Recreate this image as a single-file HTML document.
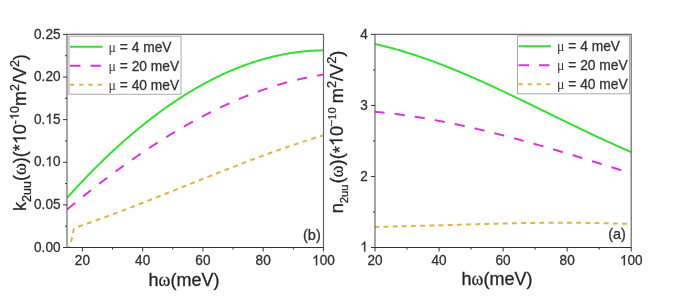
<!DOCTYPE html>
<html><head><meta charset="utf-8"><title>chart</title>
<style>html,body{margin:0;padding:0;background:#fff;width:685px;height:297px;overflow:hidden}svg{display:block;filter:blur(0.35px)}text{stroke:#333;stroke-width:0.3px;stroke-linejoin:round}tspan.one{stroke:none}path.o1{stroke:#333;stroke-width:0.3px;vector-effect:non-scaling-stroke}</style>
</head><body>
<svg width='685' height='297' viewBox='0 0 685 297' font-family="Liberation Sans, sans-serif">
<defs><clipPath id='cl'><rect x='67' y='34.3' width='256.4' height='212.7'/></clipPath><clipPath id='cr'><rect x='374.9' y='34.3' width='256.4' height='212.9'/></clipPath></defs>
<rect width='685' height='297' fill='#fff'/>
<g clip-path='url(#cl)' fill='none' stroke-width='2'>
<path d='M69.00 250.00 L69.08 249.56 L69.20 248.94 L69.34 248.21 L69.49 247.44 L69.65 246.68 L69.80 246.00 L69.96 245.41 L70.12 244.84 L70.29 244.30 L70.46 243.76 L70.63 243.19 L70.80 242.60 L70.97 241.97 L71.14 241.31 L71.31 240.64 L71.47 239.96 L71.64 239.27 L71.80 238.60 L71.96 237.92 L72.12 237.24 L72.28 236.55 L72.43 235.87 L72.57 235.22 L72.70 234.60 L72.82 234.01 L72.93 233.43 L73.03 232.88 L73.13 232.36 L73.22 231.86 L73.30 231.40 L73.37 230.97 L73.42 230.58 L73.47 230.22 L73.52 229.89 L73.60 229.58 L73.70 229.30 L73.84 229.05 L74.00 228.84 L74.19 228.66 L74.39 228.49 L74.59 228.34 L74.80 228.20 L75.01 228.07 L75.22 227.97 L75.44 227.89 L75.68 227.80 L75.93 227.71 L76.20 227.60 L76.52 227.46 L76.89 227.29 L77.28 227.11 L77.65 226.94 L77.96 226.79 L78.18 226.69 L78.94 226.43 L79.69 226.18 L80.44 225.92 L81.20 225.66 L81.95 225.40 L82.70 225.14 L83.45 224.88 L84.21 224.61 L84.96 224.35 L85.71 224.09 L86.47 223.83 L87.22 223.56 L87.97 223.30 L88.73 223.03 L89.48 222.77 L90.23 222.50 L90.99 222.23 L91.74 221.96 L92.49 221.70 L93.25 221.43 L94.00 221.16 L94.75 220.89 L95.50 220.62 L96.26 220.35 L97.01 220.08 L97.76 219.80 L98.52 219.53 L99.27 219.26 L100.02 218.99 L100.78 218.71 L101.53 218.44 L102.28 218.16 L103.04 217.89 L103.79 217.61 L104.54 217.34 L105.30 217.06 L106.05 216.78 L106.80 216.51 L107.55 216.23 L108.31 215.95 L109.06 215.67 L109.81 215.39 L110.57 215.11 L111.32 214.83 L112.07 214.55 L112.83 214.27 L113.58 213.99 L114.33 213.70 L115.09 213.42 L115.84 213.14 L116.59 212.86 L117.35 212.57 L118.10 212.29 L118.85 212.00 L119.60 211.72 L120.36 211.43 L121.11 211.15 L121.86 210.86 L122.62 210.58 L123.37 210.29 L124.12 210.00 L124.88 209.72 L125.63 209.43 L126.38 209.14 L127.14 208.85 L127.89 208.56 L128.64 208.27 L129.40 207.99 L130.15 207.70 L130.90 207.41 L131.65 207.12 L132.41 206.82 L133.16 206.53 L133.91 206.24 L134.67 205.95 L135.42 205.66 L136.17 205.37 L136.93 205.07 L137.68 204.78 L138.43 204.49 L139.19 204.20 L139.94 203.90 L140.69 203.61 L141.45 203.31 L142.20 203.02 L142.95 202.73 L143.70 202.43 L144.46 202.14 L145.21 201.84 L145.96 201.55 L146.72 201.25 L147.47 200.95 L148.22 200.66 L148.98 200.36 L149.73 200.07 L150.48 199.77 L151.24 199.47 L151.99 199.17 L152.74 198.88 L153.50 198.58 L154.25 198.28 L155.00 197.98 L155.75 197.69 L156.51 197.39 L157.26 197.09 L158.01 196.79 L158.77 196.49 L159.52 196.19 L160.27 195.89 L161.03 195.60 L161.78 195.30 L162.53 195.00 L163.29 194.70 L164.04 194.40 L164.79 194.10 L165.55 193.80 L166.30 193.50 L167.05 193.20 L167.80 192.90 L168.56 192.60 L169.31 192.30 L170.06 192.00 L170.82 191.70 L171.57 191.40 L172.32 191.10 L173.08 190.79 L173.83 190.49 L174.58 190.19 L175.34 189.89 L176.09 189.59 L176.84 189.29 L177.60 188.99 L178.35 188.69 L179.10 188.39 L179.85 188.09 L180.61 187.78 L181.36 187.48 L182.11 187.18 L182.87 186.88 L183.62 186.58 L184.37 186.28 L185.13 185.98 L185.88 185.68 L186.63 185.37 L187.39 185.07 L188.14 184.77 L188.89 184.47 L189.65 184.17 L190.40 183.87 L191.15 183.57 L191.90 183.27 L192.66 182.96 L193.41 182.66 L194.16 182.36 L194.92 182.06 L195.67 181.76 L196.42 181.46 L197.18 181.16 L197.93 180.86 L198.68 180.56 L199.44 180.26 L200.19 179.96 L200.94 179.66 L201.70 179.36 L202.45 179.06 L203.20 178.76 L203.95 178.46 L204.71 178.16 L205.46 177.86 L206.21 177.56 L206.97 177.26 L207.72 176.96 L208.47 176.66 L209.23 176.36 L209.98 176.06 L210.73 175.77 L211.49 175.47 L212.24 175.17 L212.99 174.87 L213.75 174.57 L214.50 174.28 L215.25 173.98 L216.00 173.68 L216.76 173.38 L217.51 173.09 L218.26 172.79 L219.02 172.49 L219.77 172.20 L220.52 171.90 L221.28 171.60 L222.03 171.31 L222.78 171.01 L223.54 170.72 L224.29 170.42 L225.04 170.13 L225.79 169.83 L226.55 169.54 L227.30 169.24 L228.05 168.95 L228.81 168.66 L229.56 168.36 L230.31 168.07 L231.07 167.78 L231.82 167.49 L232.57 167.19 L233.33 166.90 L234.08 166.61 L234.83 166.32 L235.59 166.03 L236.34 165.74 L237.09 165.45 L237.84 165.16 L238.60 164.87 L239.35 164.58 L240.10 164.29 L240.86 164.00 L241.61 163.71 L242.36 163.42 L243.12 163.13 L243.87 162.85 L244.62 162.56 L245.38 162.27 L246.13 161.99 L246.88 161.70 L247.64 161.41 L248.39 161.13 L249.14 160.84 L249.90 160.56 L250.65 160.28 L251.40 159.99 L252.15 159.71 L252.91 159.42 L253.66 159.14 L254.41 158.86 L255.17 158.58 L255.92 158.30 L256.67 158.02 L257.43 157.74 L258.18 157.46 L258.93 157.18 L259.69 156.90 L260.44 156.62 L261.19 156.34 L261.94 156.06 L262.70 155.78 L263.45 155.51 L264.20 155.23 L264.96 154.96 L265.71 154.68 L266.46 154.40 L267.22 154.13 L267.97 153.86 L268.72 153.58 L269.48 153.31 L270.23 153.04 L270.98 152.77 L271.74 152.49 L272.49 152.22 L273.24 151.95 L274.00 151.68 L274.75 151.41 L275.50 151.14 L276.25 150.88 L277.01 150.61 L277.76 150.34 L278.51 150.07 L279.27 149.81 L280.02 149.54 L280.77 149.28 L281.53 149.01 L282.28 148.75 L283.03 148.49 L283.79 148.22 L284.54 147.96 L285.29 147.70 L286.04 147.44 L286.80 147.18 L287.55 146.92 L288.30 146.66 L289.06 146.40 L289.81 146.14 L290.56 145.89 L291.32 145.63 L292.07 145.37 L292.82 145.12 L293.58 144.86 L294.33 144.61 L295.08 144.36 L295.84 144.10 L296.59 143.85 L297.34 143.60 L298.10 143.35 L298.85 143.10 L299.60 142.85 L300.35 142.60 L301.11 142.35 L301.86 142.10 L302.61 141.86 L303.37 141.61 L304.12 141.37 L304.87 141.12 L305.63 140.88 L306.38 140.63 L307.13 140.39 L307.89 140.15 L308.64 139.91 L309.39 139.67 L310.14 139.43 L310.90 139.19 L311.65 138.95 L312.40 138.72 L313.16 138.48 L313.91 138.24 L314.66 138.01 L315.42 137.77 L316.17 137.54 L316.92 137.31 L317.68 137.08 L318.43 136.85 L319.18 136.62 L319.94 136.39 L320.69 136.16 L321.44 135.93 L322.19 135.70 L322.95 135.48 L323.40 135.34' stroke='#e2b24a' stroke-dasharray='4.9 4.322' stroke-dashoffset='1.06'/>
<path d='M67.04 209.56 L67.79 208.93 L68.54 208.31 L69.30 207.69 L70.05 207.06 L70.80 206.44 L71.56 205.82 L72.31 205.21 L73.06 204.59 L73.81 203.97 L74.57 203.36 L75.32 202.74 L76.07 202.13 L76.83 201.52 L77.58 200.91 L78.33 200.30 L79.09 199.69 L79.84 199.08 L80.59 198.47 L81.35 197.87 L82.10 197.26 L82.85 196.66 L83.61 196.06 L84.36 195.45 L85.11 194.85 L85.86 194.25 L86.62 193.66 L87.37 193.06 L88.12 192.46 L88.88 191.87 L89.63 191.27 L90.38 190.68 L91.14 190.09 L91.89 189.50 L92.64 188.91 L93.40 188.32 L94.15 187.73 L94.90 187.15 L95.66 186.56 L96.41 185.98 L97.16 185.40 L97.91 184.82 L98.67 184.24 L99.42 183.66 L100.17 183.08 L100.93 182.50 L101.68 181.93 L102.43 181.35 L103.19 180.78 L103.94 180.21 L104.69 179.63 L105.45 179.06 L106.20 178.50 L106.95 177.93 L107.70 177.36 L108.46 176.80 L109.21 176.23 L109.96 175.67 L110.72 175.11 L111.47 174.55 L112.22 173.99 L112.98 173.43 L113.73 172.87 L114.48 172.32 L115.24 171.76 L115.99 171.21 L116.74 170.66 L117.50 170.11 L118.25 169.56 L119.00 169.01 L119.75 168.46 L120.51 167.92 L121.26 167.37 L122.01 166.83 L122.77 166.29 L123.52 165.74 L124.27 165.20 L125.03 164.67 L125.78 164.13 L126.53 163.59 L127.29 163.06 L128.04 162.52 L128.79 161.99 L129.55 161.46 L130.30 160.93 L131.05 160.40 L131.81 159.87 L132.56 159.35 L133.31 158.82 L134.06 158.30 L134.82 157.78 L135.57 157.26 L136.32 156.74 L137.08 156.22 L137.83 155.70 L138.58 155.19 L139.34 154.67 L140.09 154.16 L140.84 153.65 L141.60 153.13 L142.35 152.63 L143.10 152.12 L143.86 151.61 L144.61 151.11 L145.36 150.60 L146.11 150.10 L146.87 149.60 L147.62 149.10 L148.37 148.60 L149.13 148.10 L149.88 147.60 L150.63 147.11 L151.39 146.62 L152.14 146.12 L152.89 145.63 L153.65 145.14 L154.40 144.66 L155.15 144.17 L155.91 143.68 L156.66 143.20 L157.41 142.72 L158.16 142.23 L158.92 141.75 L159.67 141.28 L160.42 140.80 L161.18 140.32 L161.93 139.85 L162.68 139.38 L163.44 138.90 L164.19 138.43 L164.94 137.96 L165.70 137.50 L166.45 137.03 L167.20 136.57 L167.96 136.10 L168.71 135.64 L169.46 135.18 L170.21 134.72 L170.97 134.26 L171.72 133.81 L172.47 133.35 L173.23 132.90 L173.98 132.45 L174.73 132.00 L175.49 131.55 L176.24 131.10 L176.99 130.65 L177.75 130.21 L178.50 129.76 L179.25 129.32 L180.00 128.88 L180.76 128.44 L181.51 128.00 L182.26 127.57 L183.02 127.13 L183.77 126.70 L184.52 126.27 L185.28 125.84 L186.03 125.41 L186.78 124.98 L187.54 124.56 L188.29 124.13 L189.04 123.71 L189.80 123.29 L190.55 122.87 L191.30 122.45 L192.06 122.03 L192.81 121.61 L193.56 121.20 L194.31 120.79 L195.07 120.38 L195.82 119.97 L196.57 119.56 L197.33 119.15 L198.08 118.75 L198.83 118.34 L199.59 117.94 L200.34 117.54 L201.09 117.14 L201.85 116.75 L202.60 116.35 L203.35 115.95 L204.11 115.56 L204.86 115.17 L205.61 114.78 L206.36 114.39 L207.12 114.01 L207.87 113.62 L208.62 113.24 L209.38 112.85 L210.13 112.47 L210.88 112.10 L211.64 111.72 L212.39 111.34 L213.14 110.97 L213.90 110.60 L214.65 110.22 L215.40 109.85 L216.16 109.49 L216.91 109.12 L217.66 108.76 L218.41 108.39 L219.17 108.03 L219.92 107.67 L220.67 107.31 L221.43 106.96 L222.18 106.60 L222.93 106.25 L223.69 105.89 L224.44 105.54 L225.19 105.20 L225.95 104.85 L226.70 104.50 L227.45 104.16 L228.21 103.82 L228.96 103.48 L229.71 103.14 L230.46 102.80 L231.22 102.46 L231.97 102.13 L232.72 101.80 L233.48 101.47 L234.23 101.14 L234.98 100.81 L235.74 100.48 L236.49 100.16 L237.24 99.84 L238.00 99.52 L238.75 99.20 L239.50 98.88 L240.26 98.56 L241.01 98.25 L241.76 97.94 L242.51 97.62 L243.27 97.32 L244.02 97.01 L244.77 96.70 L245.53 96.40 L246.28 96.10 L247.03 95.79 L247.79 95.50 L248.54 95.20 L249.29 94.90 L250.05 94.61 L250.80 94.32 L251.55 94.03 L252.31 93.74 L253.06 93.45 L253.81 93.16 L254.56 92.88 L255.32 92.60 L256.07 92.32 L256.82 92.04 L257.58 91.76 L258.33 91.49 L259.08 91.22 L259.84 90.94 L260.59 90.67 L261.34 90.41 L262.10 90.14 L262.85 89.88 L263.60 89.61 L264.36 89.35 L265.11 89.09 L265.86 88.83 L266.61 88.58 L267.37 88.33 L268.12 88.07 L268.87 87.82 L269.63 87.57 L270.38 87.33 L271.13 87.08 L271.89 86.84 L272.64 86.60 L273.39 86.36 L274.15 86.12 L274.90 85.88 L275.65 85.65 L276.41 85.42 L277.16 85.19 L277.91 84.96 L278.66 84.73 L279.42 84.51 L280.17 84.28 L280.92 84.06 L281.68 83.84 L282.43 83.62 L283.18 83.41 L283.94 83.19 L284.69 82.98 L285.44 82.77 L286.20 82.56 L286.95 82.35 L287.70 82.15 L288.46 81.95 L289.21 81.74 L289.96 81.54 L290.71 81.35 L291.47 81.15 L292.22 80.96 L292.97 80.76 L293.73 80.57 L294.48 80.39 L295.23 80.20 L295.99 80.02 L296.74 79.83 L297.49 79.65 L298.25 79.47 L299.00 79.30 L299.75 79.12 L300.50 78.95 L301.26 78.78 L302.01 78.61 L302.76 78.44 L303.52 78.27 L304.27 78.11 L305.02 77.95 L305.78 77.79 L306.53 77.63 L307.28 77.47 L308.04 77.32 L308.79 77.17 L309.54 77.02 L310.30 76.87 L311.05 76.72 L311.80 76.58 L312.56 76.44 L313.31 76.30 L314.06 76.16 L314.81 76.02 L315.57 75.89 L316.32 75.75 L317.07 75.62 L317.83 75.49 L318.58 75.37 L319.33 75.24 L320.09 75.12 L320.84 75.00 L321.59 74.88 L322.35 74.76 L323.10 74.65 L323.40 74.60' stroke='#d936d9' stroke-dasharray='10.2 10.279' stroke-dashoffset='-0.18'/>
<path d='M67.04 197.87 L67.79 197.04 L68.54 196.20 L69.30 195.37 L70.05 194.54 L70.80 193.71 L71.56 192.88 L72.31 192.06 L73.06 191.24 L73.81 190.42 L74.57 189.60 L75.32 188.78 L76.07 187.97 L76.83 187.16 L77.58 186.35 L78.33 185.55 L79.09 184.74 L79.84 183.94 L80.59 183.14 L81.35 182.35 L82.10 181.55 L82.85 180.76 L83.61 179.97 L84.36 179.18 L85.11 178.40 L85.86 177.61 L86.62 176.83 L87.37 176.05 L88.12 175.28 L88.88 174.50 L89.63 173.73 L90.38 172.96 L91.14 172.19 L91.89 171.43 L92.64 170.67 L93.40 169.91 L94.15 169.15 L94.90 168.39 L95.66 167.64 L96.41 166.89 L97.16 166.14 L97.91 165.39 L98.67 164.65 L99.42 163.91 L100.17 163.17 L100.93 162.43 L101.68 161.70 L102.43 160.96 L103.19 160.23 L103.94 159.50 L104.69 158.78 L105.45 158.06 L106.20 157.33 L106.95 156.62 L107.70 155.90 L108.46 155.19 L109.21 154.47 L109.96 153.76 L110.72 153.06 L111.47 152.35 L112.22 151.65 L112.98 150.95 L113.73 150.25 L114.48 149.56 L115.24 148.86 L115.99 148.17 L116.74 147.48 L117.50 146.80 L118.25 146.11 L119.00 145.43 L119.75 144.75 L120.51 144.08 L121.26 143.40 L122.01 142.73 L122.77 142.06 L123.52 141.39 L124.27 140.73 L125.03 140.06 L125.78 139.40 L126.53 138.74 L127.29 138.09 L128.04 137.44 L128.79 136.78 L129.55 136.14 L130.30 135.49 L131.05 134.85 L131.81 134.20 L132.56 133.56 L133.31 132.93 L134.06 132.29 L134.82 131.66 L135.57 131.03 L136.32 130.40 L137.08 129.78 L137.83 129.15 L138.58 128.53 L139.34 127.92 L140.09 127.30 L140.84 126.69 L141.60 126.08 L142.35 125.47 L143.10 124.86 L143.86 124.26 L144.61 123.65 L145.36 123.06 L146.11 122.46 L146.87 121.86 L147.62 121.27 L148.37 120.68 L149.13 120.10 L149.88 119.51 L150.63 118.93 L151.39 118.35 L152.14 117.77 L152.89 117.19 L153.65 116.62 L154.40 116.05 L155.15 115.48 L155.91 114.92 L156.66 114.35 L157.41 113.79 L158.16 113.23 L158.92 112.68 L159.67 112.12 L160.42 111.57 L161.18 111.02 L161.93 110.47 L162.68 109.93 L163.44 109.39 L164.19 108.85 L164.94 108.31 L165.70 107.78 L166.45 107.24 L167.20 106.71 L167.96 106.19 L168.71 105.66 L169.46 105.14 L170.21 104.62 L170.97 104.10 L171.72 103.58 L172.47 103.07 L173.23 102.56 L173.98 102.05 L174.73 101.55 L175.49 101.04 L176.24 100.54 L176.99 100.04 L177.75 99.55 L178.50 99.05 L179.25 98.56 L180.00 98.07 L180.76 97.59 L181.51 97.10 L182.26 96.62 L183.02 96.14 L183.77 95.66 L184.52 95.19 L185.28 94.72 L186.03 94.25 L186.78 93.78 L187.54 93.32 L188.29 92.85 L189.04 92.39 L189.80 91.94 L190.55 91.48 L191.30 91.03 L192.06 90.58 L192.81 90.13 L193.56 89.69 L194.31 89.24 L195.07 88.80 L195.82 88.37 L196.57 87.93 L197.33 87.50 L198.08 87.07 L198.83 86.64 L199.59 86.21 L200.34 85.79 L201.09 85.37 L201.85 84.95 L202.60 84.53 L203.35 84.12 L204.11 83.71 L204.86 83.30 L205.61 82.90 L206.36 82.49 L207.12 82.09 L207.87 81.69 L208.62 81.30 L209.38 80.90 L210.13 80.51 L210.88 80.12 L211.64 79.74 L212.39 79.35 L213.14 78.97 L213.90 78.59 L214.65 78.22 L215.40 77.84 L216.16 77.47 L216.91 77.10 L217.66 76.73 L218.41 76.37 L219.17 76.01 L219.92 75.65 L220.67 75.29 L221.43 74.94 L222.18 74.59 L222.93 74.24 L223.69 73.89 L224.44 73.55 L225.19 73.20 L225.95 72.87 L226.70 72.53 L227.45 72.19 L228.21 71.86 L228.96 71.53 L229.71 71.21 L230.46 70.88 L231.22 70.56 L231.97 70.24 L232.72 69.92 L233.48 69.61 L234.23 69.30 L234.98 68.99 L235.74 68.68 L236.49 68.38 L237.24 68.08 L238.00 67.78 L238.75 67.48 L239.50 67.19 L240.26 66.89 L241.01 66.60 L241.76 66.32 L242.51 66.03 L243.27 65.75 L244.02 65.47 L244.77 65.20 L245.53 64.92 L246.28 64.65 L247.03 64.38 L247.79 64.11 L248.54 63.85 L249.29 63.59 L250.05 63.33 L250.80 63.07 L251.55 62.82 L252.31 62.57 L253.06 62.32 L253.81 62.07 L254.56 61.83 L255.32 61.59 L256.07 61.35 L256.82 61.11 L257.58 60.88 L258.33 60.65 L259.08 60.42 L259.84 60.19 L260.59 59.97 L261.34 59.75 L262.10 59.53 L262.85 59.31 L263.60 59.10 L264.36 58.89 L265.11 58.68 L265.86 58.47 L266.61 58.27 L267.37 58.07 L268.12 57.87 L268.87 57.67 L269.63 57.48 L270.38 57.29 L271.13 57.10 L271.89 56.92 L272.64 56.73 L273.39 56.55 L274.15 56.38 L274.90 56.20 L275.65 56.03 L276.41 55.86 L277.16 55.69 L277.91 55.53 L278.66 55.36 L279.42 55.20 L280.17 55.05 L280.92 54.89 L281.68 54.74 L282.43 54.59 L283.18 54.44 L283.94 54.30 L284.69 54.16 L285.44 54.02 L286.20 53.88 L286.95 53.75 L287.70 53.61 L288.46 53.49 L289.21 53.36 L289.96 53.24 L290.71 53.11 L291.47 53.00 L292.22 52.88 L292.97 52.77 L293.73 52.65 L294.48 52.55 L295.23 52.44 L295.99 52.34 L296.74 52.24 L297.49 52.14 L298.25 52.04 L299.00 51.95 L299.75 51.86 L300.50 51.77 L301.26 51.69 L302.01 51.61 L302.76 51.53 L303.52 51.45 L304.27 51.37 L305.02 51.30 L305.78 51.23 L306.53 51.17 L307.28 51.10 L308.04 51.04 L308.79 50.98 L309.54 50.92 L310.30 50.87 L311.05 50.82 L311.80 50.77 L312.56 50.73 L313.31 50.68 L314.06 50.64 L314.81 50.60 L315.57 50.57 L316.32 50.53 L317.07 50.50 L317.83 50.48 L318.58 50.45 L319.33 50.43 L320.09 50.41 L320.84 50.39 L321.59 50.38 L322.35 50.37 L323.10 50.36 L323.40 50.35' stroke='#36dd36'/>
</g>
<rect x='69.0' y='36.3' width='112' height='58' fill='#fff' stroke='#aaa' stroke-width='1'/>
<line x1='70.0' y1='46.8' x2='102.5' y2='46.8' stroke='#36dd36' stroke-width='2'/>
<text x='108.5' y='51.8' font-size='13.8' fill='#333'><tspan font-family='Liberation Serif' fill='#3a3a3a' stroke='none'>μ</tspan> = 4 meV</text>
<line x1='70.0' y1='65.8' x2='102.5' y2='65.8' stroke='#d936d9' stroke-width='2' stroke-dasharray='10.5 10'/>
<text x='108.5' y='70.8' font-size='13.8' fill='#333'><tspan font-family='Liberation Serif' fill='#3a3a3a' stroke='none'>μ</tspan> = 20 meV</text>
<line x1='70.0' y1='84.8' x2='102.5' y2='84.8' stroke='#e2b24a' stroke-width='2' stroke-dasharray='4.2 5'/>
<text x='108.5' y='89.8' font-size='13.8' fill='#333'><tspan font-family='Liberation Serif' fill='#3a3a3a' stroke='none'>μ</tspan> = 40 meV</text>
<line x1='66.5' y1='247.5' x2='324.0' y2='247.5' stroke='#333' stroke-width='1.15'/><line x1='66.5' y1='34.4' x2='324.0' y2='34.4' stroke='#6a6a6a' stroke-width='1.3'/><line x1='67.0' y1='34.4' x2='67.0' y2='247.5' stroke='#555' stroke-width='1.05'/><line x1='323.5' y1='34.4' x2='323.5' y2='247.5' stroke='#666' stroke-width='1.2'/>
<line x1='82.4' y1='247.5' x2='82.4' y2='251.5' stroke='#333' stroke-width='1'/>
<text transform='translate(82.40 265.20) scale(1 1.045)' font-size='13.6' text-anchor='middle' fill='#333'>20</text>
<line x1='142.65' y1='247.5' x2='142.65' y2='251.5' stroke='#333' stroke-width='1'/>
<text transform='translate(142.65 265.20) scale(1 1.045)' font-size='13.6' text-anchor='middle' fill='#333'>40</text>
<line x1='202.9' y1='247.5' x2='202.9' y2='251.5' stroke='#333' stroke-width='1'/>
<text transform='translate(202.90 265.20) scale(1 1.045)' font-size='13.6' text-anchor='middle' fill='#333'>60</text>
<line x1='263.15' y1='247.5' x2='263.15' y2='251.5' stroke='#333' stroke-width='1'/>
<text transform='translate(263.15 265.20) scale(1 1.045)' font-size='13.6' text-anchor='middle' fill='#333'>80</text>
<line x1='323.4' y1='247.5' x2='323.4' y2='251.5' stroke='#333' stroke-width='1'/>
<text transform='translate(323.40 265.20) scale(1 1.045)' font-size='13.6' text-anchor='middle' fill='#333'><tspan class='one' fill='none'>1</tspan>00</text>
<line x1='112.525' y1='247.5' x2='112.525' y2='249.5' stroke='#333' stroke-width='1'/>
<line x1='172.775' y1='247.5' x2='172.775' y2='249.5' stroke='#333' stroke-width='1'/>
<line x1='233.025' y1='247.5' x2='233.025' y2='249.5' stroke='#333' stroke-width='1'/>
<line x1='293.275' y1='247.5' x2='293.275' y2='249.5' stroke='#333' stroke-width='1'/>
<line x1='63.0' y1='247.5' x2='67.0' y2='247.5' stroke='#333' stroke-width='1'/>
<text transform='translate(60.50 251.60) scale(1 1.045)' font-size='13.6' text-anchor='end' fill='#333'>0.00</text>
<line x1='63.0' y1='204.88' x2='67.0' y2='204.88' stroke='#333' stroke-width='1'/>
<text transform='translate(60.50 208.98) scale(1 1.045)' font-size='13.6' text-anchor='end' fill='#333'>0.05</text>
<line x1='63.0' y1='162.26' x2='67.0' y2='162.26' stroke='#333' stroke-width='1'/>
<text transform='translate(60.50 166.36) scale(1 1.045)' font-size='13.6' text-anchor='end' fill='#333'>0.<tspan class='one' fill='none'>1</tspan>0</text>
<line x1='63.0' y1='119.64000000000001' x2='67.0' y2='119.64000000000001' stroke='#333' stroke-width='1'/>
<text transform='translate(60.50 123.74) scale(1 1.045)' font-size='13.6' text-anchor='end' fill='#333'>0.<tspan class='one' fill='none'>1</tspan>5</text>
<line x1='63.0' y1='77.01999999999998' x2='67.0' y2='77.01999999999998' stroke='#333' stroke-width='1'/>
<text transform='translate(60.50 81.12) scale(1 1.045)' font-size='13.6' text-anchor='end' fill='#333'>0.20</text>
<line x1='63.0' y1='34.400000000000006' x2='67.0' y2='34.400000000000006' stroke='#333' stroke-width='1'/>
<text transform='translate(60.50 38.50) scale(1 1.045)' font-size='13.6' text-anchor='end' fill='#333'>0.25</text>
<line x1='65.0' y1='226.19' x2='67.0' y2='226.19' stroke='#333' stroke-width='1'/>
<line x1='65.0' y1='183.57' x2='67.0' y2='183.57' stroke='#333' stroke-width='1'/>
<line x1='65.0' y1='140.95' x2='67.0' y2='140.95' stroke='#333' stroke-width='1'/>
<line x1='65.0' y1='98.33000000000001' x2='67.0' y2='98.33000000000001' stroke='#333' stroke-width='1'/>
<line x1='65.0' y1='55.71000000000001' x2='67.0' y2='55.71000000000001' stroke='#333' stroke-width='1'/>
<text x='311.9' y='240.2' font-size='14.5' text-anchor='middle' fill='#333'>(b)</text>
<text x='184' y='285.5' font-size='18' text-anchor='middle' fill='#222'>h<tspan font-family='Liberation Serif'>ω</tspan>(meV)</text>
<text transform='translate(25.8 132.5) rotate(-90)' font-size='18' text-anchor='middle' fill='#222'>k<tspan font-size='12.5' dy='5'>2uu</tspan><tspan dy='-5'>(</tspan><tspan font-family='Liberation Serif'>ω</tspan>)(*<tspan class='one' fill='none'>1</tspan>0<tspan font-size='12.5' dy='-7'>-<tspan class='one' fill='none'>1</tspan>0</tspan><tspan dy='7'>m</tspan><tspan font-size='12.5' dy='-7'>2</tspan><tspan dy='7'>/V</tspan><tspan font-size='12.5' dy='-7'>2</tspan><tspan dy='7'>)</tspan></text>
<g clip-path='url(#cr)' fill='none' stroke-width='2'>
<path d='M374.68 226.94 L375.48 226.93 L376.28 226.91 L377.08 226.89 L377.88 226.88 L378.68 226.86 L379.48 226.84 L380.28 226.83 L381.08 226.81 L381.89 226.79 L382.69 226.78 L383.49 226.76 L384.29 226.74 L385.09 226.72 L385.89 226.70 L386.69 226.69 L387.49 226.67 L388.29 226.65 L389.09 226.63 L389.89 226.61 L390.69 226.59 L391.49 226.57 L392.29 226.55 L393.09 226.53 L393.89 226.52 L394.70 226.50 L395.50 226.48 L396.30 226.46 L397.10 226.44 L397.90 226.42 L398.70 226.40 L399.50 226.38 L400.30 226.35 L401.10 226.33 L401.90 226.31 L402.70 226.29 L403.50 226.27 L404.30 226.25 L405.10 226.23 L405.90 226.21 L406.70 226.19 L407.51 226.17 L408.31 226.14 L409.11 226.12 L409.91 226.10 L410.71 226.08 L411.51 226.06 L412.31 226.03 L413.11 226.01 L413.91 225.99 L414.71 225.97 L415.51 225.95 L416.31 225.92 L417.11 225.90 L417.91 225.88 L418.71 225.86 L419.51 225.83 L420.32 225.81 L421.12 225.79 L421.92 225.76 L422.72 225.74 L423.52 225.72 L424.32 225.70 L425.12 225.67 L425.92 225.65 L426.72 225.63 L427.52 225.60 L428.32 225.58 L429.12 225.56 L429.92 225.53 L430.72 225.51 L431.52 225.49 L432.32 225.46 L433.13 225.44 L433.93 225.42 L434.73 225.39 L435.53 225.37 L436.33 225.35 L437.13 225.32 L437.93 225.30 L438.73 225.27 L439.53 225.25 L440.33 225.23 L441.13 225.20 L441.93 225.18 L442.73 225.16 L443.53 225.13 L444.33 225.11 L445.13 225.08 L445.94 225.06 L446.74 225.04 L447.54 225.01 L448.34 224.99 L449.14 224.97 L449.94 224.94 L450.74 224.92 L451.54 224.90 L452.34 224.87 L453.14 224.85 L453.94 224.82 L454.74 224.80 L455.54 224.78 L456.34 224.75 L457.14 224.73 L457.94 224.71 L458.75 224.68 L459.55 224.66 L460.35 224.64 L461.15 224.61 L461.95 224.59 L462.75 224.57 L463.55 224.54 L464.35 224.52 L465.15 224.50 L465.95 224.48 L466.75 224.45 L467.55 224.43 L468.35 224.41 L469.15 224.38 L469.95 224.36 L470.75 224.34 L471.56 224.32 L472.36 224.29 L473.16 224.27 L473.96 224.25 L474.76 224.23 L475.56 224.21 L476.36 224.18 L477.16 224.16 L477.96 224.14 L478.76 224.12 L479.56 224.10 L480.36 224.08 L481.16 224.05 L481.96 224.03 L482.76 224.01 L483.56 223.99 L484.37 223.97 L485.17 223.95 L485.97 223.93 L486.77 223.91 L487.57 223.89 L488.37 223.87 L489.17 223.84 L489.97 223.82 L490.77 223.80 L491.57 223.78 L492.37 223.76 L493.17 223.74 L493.97 223.72 L494.77 223.71 L495.57 223.69 L496.37 223.67 L497.18 223.65 L497.98 223.63 L498.78 223.61 L499.58 223.59 L500.38 223.57 L501.18 223.55 L501.98 223.54 L502.78 223.52 L503.58 223.50 L504.38 223.48 L505.18 223.46 L505.98 223.45 L506.78 223.43 L507.58 223.41 L508.38 223.40 L509.18 223.38 L509.99 223.36 L510.79 223.35 L511.59 223.33 L512.39 223.31 L513.19 223.30 L513.99 223.28 L514.79 223.27 L515.59 223.25 L516.39 223.24 L517.19 223.22 L517.99 223.21 L518.79 223.19 L519.59 223.18 L520.39 223.16 L521.19 223.15 L521.99 223.14 L522.80 223.12 L523.60 223.11 L524.40 223.09 L525.20 223.08 L526.00 223.07 L526.80 223.06 L527.60 223.04 L528.40 223.03 L529.20 223.02 L530.00 223.01 L530.80 223.00 L531.60 222.99 L532.40 222.98 L533.20 222.96 L534.00 222.95 L534.80 222.94 L535.61 222.93 L536.41 222.92 L537.21 222.91 L538.01 222.91 L538.81 222.90 L539.61 222.89 L540.41 222.88 L541.21 222.87 L542.01 222.86 L542.81 222.85 L543.61 222.85 L544.41 222.84 L545.21 222.83 L546.01 222.83 L546.81 222.82 L547.61 222.81 L548.42 222.81 L549.22 222.80 L550.02 222.80 L550.82 222.79 L551.62 222.79 L552.42 222.78 L553.22 222.78 L554.02 222.77 L554.82 222.77 L555.62 222.77 L556.42 222.76 L557.22 222.76 L558.02 222.76 L558.82 222.76 L559.62 222.75 L560.42 222.75 L561.23 222.75 L562.03 222.75 L562.83 222.75 L563.63 222.75 L564.43 222.75 L565.23 222.75 L566.03 222.75 L566.83 222.75 L567.63 222.75 L568.43 222.75 L569.23 222.76 L570.03 222.76 L570.83 222.76 L571.63 222.76 L572.43 222.77 L573.23 222.77 L574.04 222.78 L574.84 222.78 L575.64 222.78 L576.44 222.79 L577.24 222.79 L578.04 222.80 L578.84 222.81 L579.64 222.81 L580.44 222.82 L581.24 222.83 L582.04 222.83 L582.84 222.84 L583.64 222.85 L584.44 222.86 L585.24 222.87 L586.04 222.88 L586.85 222.89 L587.65 222.90 L588.45 222.91 L589.25 222.92 L590.05 222.93 L590.85 222.94 L591.65 222.95 L592.45 222.96 L593.25 222.98 L594.05 222.99 L594.85 223.00 L595.65 223.02 L596.45 223.03 L597.25 223.05 L598.05 223.06 L598.85 223.08 L599.66 223.09 L600.46 223.11 L601.26 223.13 L602.06 223.14 L602.86 223.16 L603.66 223.18 L604.46 223.20 L605.26 223.22 L606.06 223.24 L606.86 223.26 L607.66 223.28 L608.46 223.30 L609.26 223.32 L610.06 223.34 L610.86 223.36 L611.66 223.38 L612.47 223.41 L613.27 223.43 L614.07 223.45 L614.87 223.48 L615.67 223.50 L616.47 223.53 L617.27 223.55 L618.07 223.58 L618.87 223.60 L619.67 223.63 L620.47 223.66 L621.27 223.69 L622.07 223.71 L622.87 223.74 L623.67 223.77 L624.47 223.80 L625.28 223.83 L626.08 223.86 L626.88 223.89 L627.68 223.92 L628.48 223.96 L629.28 223.99 L630.08 224.02 L630.88 224.06 L631.20 224.07' stroke='#e2b24a' stroke-dasharray='4.9 4.277' stroke-dashoffset='0.34'/>
<path d='M374.68 111.75 L375.48 111.83 L376.28 111.90 L377.08 111.98 L377.88 112.05 L378.68 112.13 L379.48 112.21 L380.28 112.29 L381.08 112.37 L381.89 112.45 L382.69 112.53 L383.49 112.62 L384.29 112.70 L385.09 112.79 L385.89 112.88 L386.69 112.97 L387.49 113.06 L388.29 113.15 L389.09 113.24 L389.89 113.33 L390.69 113.42 L391.49 113.52 L392.29 113.61 L393.09 113.71 L393.89 113.81 L394.70 113.91 L395.50 114.01 L396.30 114.11 L397.10 114.21 L397.90 114.31 L398.70 114.42 L399.50 114.52 L400.30 114.63 L401.10 114.73 L401.90 114.84 L402.70 114.95 L403.50 115.06 L404.30 115.17 L405.10 115.28 L405.90 115.40 L406.70 115.51 L407.51 115.63 L408.31 115.74 L409.11 115.86 L409.91 115.98 L410.71 116.10 L411.51 116.22 L412.31 116.34 L413.11 116.46 L413.91 116.58 L414.71 116.70 L415.51 116.83 L416.31 116.95 L417.11 117.08 L417.91 117.21 L418.71 117.34 L419.51 117.46 L420.32 117.59 L421.12 117.73 L421.92 117.86 L422.72 117.99 L423.52 118.12 L424.32 118.26 L425.12 118.39 L425.92 118.53 L426.72 118.67 L427.52 118.81 L428.32 118.95 L429.12 119.09 L429.92 119.23 L430.72 119.37 L431.52 119.51 L432.32 119.65 L433.13 119.80 L433.93 119.94 L434.73 120.09 L435.53 120.24 L436.33 120.38 L437.13 120.53 L437.93 120.68 L438.73 120.83 L439.53 120.98 L440.33 121.14 L441.13 121.29 L441.93 121.44 L442.73 121.60 L443.53 121.75 L444.33 121.91 L445.13 122.07 L445.94 122.22 L446.74 122.38 L447.54 122.54 L448.34 122.70 L449.14 122.86 L449.94 123.02 L450.74 123.19 L451.54 123.35 L452.34 123.51 L453.14 123.68 L453.94 123.85 L454.74 124.01 L455.54 124.18 L456.34 124.35 L457.14 124.52 L457.94 124.69 L458.75 124.86 L459.55 125.03 L460.35 125.20 L461.15 125.37 L461.95 125.54 L462.75 125.72 L463.55 125.89 L464.35 126.07 L465.15 126.25 L465.95 126.42 L466.75 126.60 L467.55 126.78 L468.35 126.96 L469.15 127.14 L469.95 127.32 L470.75 127.50 L471.56 127.68 L472.36 127.86 L473.16 128.05 L473.96 128.23 L474.76 128.42 L475.56 128.60 L476.36 128.79 L477.16 128.97 L477.96 129.16 L478.76 129.35 L479.56 129.54 L480.36 129.73 L481.16 129.92 L481.96 130.11 L482.76 130.30 L483.56 130.49 L484.37 130.69 L485.17 130.88 L485.97 131.07 L486.77 131.27 L487.57 131.46 L488.37 131.66 L489.17 131.86 L489.97 132.05 L490.77 132.25 L491.57 132.45 L492.37 132.65 L493.17 132.85 L493.97 133.05 L494.77 133.25 L495.57 133.45 L496.37 133.65 L497.18 133.86 L497.98 134.06 L498.78 134.26 L499.58 134.47 L500.38 134.67 L501.18 134.88 L501.98 135.08 L502.78 135.29 L503.58 135.50 L504.38 135.71 L505.18 135.92 L505.98 136.12 L506.78 136.33 L507.58 136.54 L508.38 136.75 L509.18 136.97 L509.99 137.18 L510.79 137.39 L511.59 137.60 L512.39 137.82 L513.19 138.03 L513.99 138.24 L514.79 138.46 L515.59 138.67 L516.39 138.89 L517.19 139.11 L517.99 139.32 L518.79 139.54 L519.59 139.76 L520.39 139.98 L521.19 140.20 L521.99 140.42 L522.80 140.64 L523.60 140.86 L524.40 141.08 L525.20 141.30 L526.00 141.52 L526.80 141.74 L527.60 141.97 L528.40 142.19 L529.20 142.41 L530.00 142.64 L530.80 142.86 L531.60 143.09 L532.40 143.31 L533.20 143.54 L534.00 143.76 L534.80 143.99 L535.61 144.22 L536.41 144.45 L537.21 144.67 L538.01 144.90 L538.81 145.13 L539.61 145.36 L540.41 145.59 L541.21 145.82 L542.01 146.05 L542.81 146.28 L543.61 146.51 L544.41 146.74 L545.21 146.98 L546.01 147.21 L546.81 147.44 L547.61 147.67 L548.42 147.91 L549.22 148.14 L550.02 148.38 L550.82 148.61 L551.62 148.85 L552.42 149.08 L553.22 149.32 L554.02 149.55 L554.82 149.79 L555.62 150.03 L556.42 150.26 L557.22 150.50 L558.02 150.74 L558.82 150.98 L559.62 151.22 L560.42 151.45 L561.23 151.69 L562.03 151.93 L562.83 152.17 L563.63 152.41 L564.43 152.65 L565.23 152.89 L566.03 153.14 L566.83 153.38 L567.63 153.62 L568.43 153.86 L569.23 154.10 L570.03 154.34 L570.83 154.59 L571.63 154.83 L572.43 155.07 L573.23 155.32 L574.04 155.56 L574.84 155.80 L575.64 156.05 L576.44 156.29 L577.24 156.54 L578.04 156.78 L578.84 157.03 L579.64 157.27 L580.44 157.52 L581.24 157.77 L582.04 158.01 L582.84 158.26 L583.64 158.51 L584.44 158.75 L585.24 159.00 L586.04 159.25 L586.85 159.49 L587.65 159.74 L588.45 159.99 L589.25 160.24 L590.05 160.49 L590.85 160.74 L591.65 160.98 L592.45 161.23 L593.25 161.48 L594.05 161.73 L594.85 161.98 L595.65 162.23 L596.45 162.48 L597.25 162.73 L598.05 162.98 L598.85 163.23 L599.66 163.48 L600.46 163.73 L601.26 163.98 L602.06 164.23 L602.86 164.48 L603.66 164.74 L604.46 164.99 L605.26 165.24 L606.06 165.49 L606.86 165.74 L607.66 165.99 L608.46 166.25 L609.26 166.50 L610.06 166.75 L610.86 167.00 L611.66 167.25 L612.47 167.51 L613.27 167.76 L614.07 168.01 L614.87 168.26 L615.67 168.52 L616.47 168.77 L617.27 169.02 L618.07 169.28 L618.87 169.53 L619.67 169.78 L620.47 170.04 L621.27 170.29 L622.07 170.54 L622.87 170.80 L623.67 171.05 L624.47 171.30 L625.28 171.56 L626.08 171.81 L626.88 172.06 L627.68 172.32 L628.48 172.57 L629.28 172.83 L630.08 173.08 L630.88 173.33 L631.20 173.44' stroke='#d936d9' stroke-dasharray='10.2 10.123' stroke-dashoffset='0.3'/>
<path d='M374.68 43.99 L375.48 44.16 L376.28 44.34 L377.08 44.52 L377.88 44.70 L378.68 44.88 L379.48 45.07 L380.28 45.25 L381.08 45.44 L381.89 45.63 L382.69 45.82 L383.49 46.02 L384.29 46.22 L385.09 46.41 L385.89 46.61 L386.69 46.82 L387.49 47.02 L388.29 47.23 L389.09 47.43 L389.89 47.64 L390.69 47.85 L391.49 48.07 L392.29 48.28 L393.09 48.50 L393.89 48.72 L394.70 48.94 L395.50 49.16 L396.30 49.38 L397.10 49.61 L397.90 49.84 L398.70 50.06 L399.50 50.29 L400.30 50.53 L401.10 50.76 L401.90 51.00 L402.70 51.24 L403.50 51.47 L404.30 51.72 L405.10 51.96 L405.90 52.20 L406.70 52.45 L407.51 52.70 L408.31 52.94 L409.11 53.20 L409.91 53.45 L410.71 53.70 L411.51 53.96 L412.31 54.21 L413.11 54.47 L413.91 54.73 L414.71 55.00 L415.51 55.26 L416.31 55.52 L417.11 55.79 L417.91 56.06 L418.71 56.33 L419.51 56.60 L420.32 56.87 L421.12 57.15 L421.92 57.42 L422.72 57.70 L423.52 57.98 L424.32 58.26 L425.12 58.54 L425.92 58.82 L426.72 59.10 L427.52 59.39 L428.32 59.68 L429.12 59.97 L429.92 60.26 L430.72 60.55 L431.52 60.84 L432.32 61.13 L433.13 61.43 L433.93 61.72 L434.73 62.02 L435.53 62.32 L436.33 62.62 L437.13 62.92 L437.93 63.23 L438.73 63.53 L439.53 63.84 L440.33 64.14 L441.13 64.45 L441.93 64.76 L442.73 65.07 L443.53 65.38 L444.33 65.69 L445.13 66.01 L445.94 66.32 L446.74 66.64 L447.54 66.96 L448.34 67.28 L449.14 67.60 L449.94 67.92 L450.74 68.24 L451.54 68.56 L452.34 68.89 L453.14 69.21 L453.94 69.54 L454.74 69.87 L455.54 70.20 L456.34 70.53 L457.14 70.86 L457.94 71.19 L458.75 71.52 L459.55 71.86 L460.35 72.19 L461.15 72.53 L461.95 72.87 L462.75 73.21 L463.55 73.54 L464.35 73.88 L465.15 74.23 L465.95 74.57 L466.75 74.91 L467.55 75.26 L468.35 75.60 L469.15 75.95 L469.95 76.29 L470.75 76.64 L471.56 76.99 L472.36 77.34 L473.16 77.69 L473.96 78.04 L474.76 78.39 L475.56 78.75 L476.36 79.10 L477.16 79.45 L477.96 79.81 L478.76 80.17 L479.56 80.52 L480.36 80.88 L481.16 81.24 L481.96 81.60 L482.76 81.96 L483.56 82.32 L484.37 82.68 L485.17 83.04 L485.97 83.41 L486.77 83.77 L487.57 84.14 L488.37 84.50 L489.17 84.87 L489.97 85.23 L490.77 85.60 L491.57 85.97 L492.37 86.34 L493.17 86.71 L493.97 87.08 L494.77 87.45 L495.57 87.82 L496.37 88.19 L497.18 88.56 L497.98 88.94 L498.78 89.31 L499.58 89.69 L500.38 90.06 L501.18 90.44 L501.98 90.81 L502.78 91.19 L503.58 91.57 L504.38 91.94 L505.18 92.32 L505.98 92.70 L506.78 93.08 L507.58 93.46 L508.38 93.84 L509.18 94.22 L509.99 94.60 L510.79 94.98 L511.59 95.36 L512.39 95.74 L513.19 96.13 L513.99 96.51 L514.79 96.89 L515.59 97.28 L516.39 97.66 L517.19 98.05 L517.99 98.43 L518.79 98.82 L519.59 99.20 L520.39 99.59 L521.19 99.97 L521.99 100.36 L522.80 100.75 L523.60 101.13 L524.40 101.52 L525.20 101.91 L526.00 102.30 L526.80 102.69 L527.60 103.07 L528.40 103.46 L529.20 103.85 L530.00 104.24 L530.80 104.63 L531.60 105.02 L532.40 105.41 L533.20 105.80 L534.00 106.19 L534.80 106.58 L535.61 106.97 L536.41 107.36 L537.21 107.75 L538.01 108.14 L538.81 108.53 L539.61 108.92 L540.41 109.32 L541.21 109.71 L542.01 110.10 L542.81 110.49 L543.61 110.88 L544.41 111.27 L545.21 111.67 L546.01 112.06 L546.81 112.45 L547.61 112.84 L548.42 113.23 L549.22 113.62 L550.02 114.02 L550.82 114.41 L551.62 114.80 L552.42 115.19 L553.22 115.58 L554.02 115.97 L554.82 116.37 L555.62 116.76 L556.42 117.15 L557.22 117.54 L558.02 117.93 L558.82 118.32 L559.62 118.71 L560.42 119.10 L561.23 119.49 L562.03 119.88 L562.83 120.27 L563.63 120.66 L564.43 121.05 L565.23 121.44 L566.03 121.83 L566.83 122.22 L567.63 122.61 L568.43 123.00 L569.23 123.39 L570.03 123.78 L570.83 124.17 L571.63 124.56 L572.43 124.94 L573.23 125.33 L574.04 125.72 L574.84 126.10 L575.64 126.49 L576.44 126.88 L577.24 127.26 L578.04 127.65 L578.84 128.03 L579.64 128.42 L580.44 128.80 L581.24 129.19 L582.04 129.57 L582.84 129.95 L583.64 130.34 L584.44 130.72 L585.24 131.10 L586.04 131.48 L586.85 131.87 L587.65 132.25 L588.45 132.63 L589.25 133.01 L590.05 133.39 L590.85 133.77 L591.65 134.14 L592.45 134.52 L593.25 134.90 L594.05 135.28 L594.85 135.65 L595.65 136.03 L596.45 136.40 L597.25 136.78 L598.05 137.15 L598.85 137.53 L599.66 137.90 L600.46 138.27 L601.26 138.64 L602.06 139.02 L602.86 139.39 L603.66 139.76 L604.46 140.13 L605.26 140.49 L606.06 140.86 L606.86 141.23 L607.66 141.60 L608.46 141.96 L609.26 142.33 L610.06 142.69 L610.86 143.06 L611.66 143.42 L612.47 143.78 L613.27 144.14 L614.07 144.50 L614.87 144.87 L615.67 145.22 L616.47 145.58 L617.27 145.94 L618.07 146.30 L618.87 146.65 L619.67 147.01 L620.47 147.36 L621.27 147.72 L622.07 148.07 L622.87 148.42 L623.67 148.78 L624.47 149.13 L625.28 149.47 L626.08 149.82 L626.88 150.17 L627.68 150.52 L628.48 150.86 L629.28 151.21 L630.08 151.55 L630.88 151.90 L631.20 152.03' stroke='#36dd36'/>
</g>
<rect x='517.5' y='35.8' width='112' height='58' fill='#fff' stroke='#aaa' stroke-width='1'/>
<line x1='518.5' y1='46.3' x2='551.0' y2='46.3' stroke='#36dd36' stroke-width='2'/>
<text x='557.0' y='51.3' font-size='13.8' fill='#333'><tspan font-family='Liberation Serif' fill='#3a3a3a' stroke='none'>μ</tspan> = 4 meV</text>
<line x1='518.5' y1='65.3' x2='551.0' y2='65.3' stroke='#d936d9' stroke-width='2' stroke-dasharray='10.5 10'/>
<text x='557.0' y='70.3' font-size='13.8' fill='#333'><tspan font-family='Liberation Serif' fill='#3a3a3a' stroke='none'>μ</tspan> = 20 meV</text>
<line x1='518.5' y1='84.3' x2='551.0' y2='84.3' stroke='#e2b24a' stroke-width='2' stroke-dasharray='4.2 5'/>
<text x='557.0' y='89.3' font-size='13.8' fill='#333'><tspan font-family='Liberation Serif' fill='#3a3a3a' stroke='none'>μ</tspan> = 40 meV</text>
<line x1='374.5' y1='247.5' x2='631.7' y2='247.5' stroke='#333' stroke-width='1.15'/><line x1='374.5' y1='34.4' x2='631.7' y2='34.4' stroke='#6a6a6a' stroke-width='1.3'/><line x1='375.0' y1='34.4' x2='375.0' y2='247.5' stroke='#555' stroke-width='1.05'/><line x1='631.2' y1='34.4' x2='631.2' y2='247.5' stroke='#666' stroke-width='1.2'/>
<line x1='375.0' y1='247.5' x2='375.0' y2='251.5' stroke='#333' stroke-width='1'/>
<text transform='translate(375.00 265.20) scale(1 1.045)' font-size='13.6' text-anchor='middle' fill='#333'>20</text>
<line x1='439.05' y1='247.5' x2='439.05' y2='251.5' stroke='#333' stroke-width='1'/>
<text transform='translate(439.05 265.20) scale(1 1.045)' font-size='13.6' text-anchor='middle' fill='#333'>40</text>
<line x1='503.1' y1='247.5' x2='503.1' y2='251.5' stroke='#333' stroke-width='1'/>
<text transform='translate(503.10 265.20) scale(1 1.045)' font-size='13.6' text-anchor='middle' fill='#333'>60</text>
<line x1='567.1500000000001' y1='247.5' x2='567.1500000000001' y2='251.5' stroke='#333' stroke-width='1'/>
<text transform='translate(567.15 265.20) scale(1 1.045)' font-size='13.6' text-anchor='middle' fill='#333'>80</text>
<line x1='631.2' y1='247.5' x2='631.2' y2='251.5' stroke='#333' stroke-width='1'/>
<text transform='translate(631.20 265.20) scale(1 1.045)' font-size='13.6' text-anchor='middle' fill='#333'><tspan class='one' fill='none'>1</tspan>00</text>
<line x1='407.025' y1='247.5' x2='407.025' y2='249.5' stroke='#333' stroke-width='1'/>
<line x1='471.07500000000005' y1='247.5' x2='471.07500000000005' y2='249.5' stroke='#333' stroke-width='1'/>
<line x1='535.125' y1='247.5' x2='535.125' y2='249.5' stroke='#333' stroke-width='1'/>
<line x1='599.1750000000001' y1='247.5' x2='599.1750000000001' y2='249.5' stroke='#333' stroke-width='1'/>
<line x1='371.0' y1='247.5' x2='375.0' y2='247.5' stroke='#333' stroke-width='1'/>
<text transform='translate(367.80 251.60) scale(1 1.045)' font-size='13.6' text-anchor='end' fill='#333'><tspan class='one' fill='none'>1</tspan></text>
<line x1='371.0' y1='176.46666666666667' x2='375.0' y2='176.46666666666667' stroke='#333' stroke-width='1'/>
<text transform='translate(367.80 180.57) scale(1 1.045)' font-size='13.6' text-anchor='end' fill='#333'>2</text>
<line x1='371.0' y1='105.43333333333334' x2='375.0' y2='105.43333333333334' stroke='#333' stroke-width='1'/>
<text transform='translate(367.80 109.53) scale(1 1.045)' font-size='13.6' text-anchor='end' fill='#333'>3</text>
<line x1='371.0' y1='34.400000000000006' x2='375.0' y2='34.400000000000006' stroke='#333' stroke-width='1'/>
<text transform='translate(367.80 38.50) scale(1 1.045)' font-size='13.6' text-anchor='end' fill='#333'>4</text>
<line x1='373.0' y1='211.98333333333335' x2='375.0' y2='211.98333333333335' stroke='#333' stroke-width='1'/>
<line x1='373.0' y1='140.95' x2='375.0' y2='140.95' stroke='#333' stroke-width='1'/>
<line x1='373.0' y1='69.91666666666666' x2='375.0' y2='69.91666666666666' stroke='#333' stroke-width='1'/>
<text x='617' y='238.7' font-size='14.5' text-anchor='middle' fill='#333'>(a)</text>
<text x='497' y='285' font-size='18' text-anchor='middle' fill='#222'>h<tspan font-family='Liberation Serif'>ω</tspan>(meV)</text>
<text transform='translate(342.5 132) rotate(-90) scale(1.012 1)' font-size='18' text-anchor='middle' fill='#222'>n<tspan font-size='11' dy='5.4'>2uu</tspan><tspan dy='-5.4' dx='1.2'>(</tspan><tspan font-family='Liberation Serif'>ω</tspan>)(<tspan dy='3.3'>*</tspan><tspan dy='-3.3'><tspan class='one' fill='none'>1</tspan>0</tspan><tspan font-size='12.5' dy='-7' dx='-1.1' font-family='Liberation Serif'>−10</tspan><tspan dy='7' dx='-1'> m</tspan><tspan font-size='12.5' dy='-7'>2</tspan><tspan dy='7'>/V</tspan><tspan font-size='12.5' dy='-7'>2</tspan><tspan dy='7'>)</tspan></text>
<path class='o1' d='M763 0L583 0L583 1147Q518 1085 412 1023Q306 961 222 930L222 1104Q371 1174 482 1274Q593 1374 639 1466L763 1466Z' fill='#333' transform='translate(323.40 265.20) scale(1 1.045) translate(-11.34 0.00) scale(0.006641 -0.006641)'/>
<path class='o1' d='M763 0L583 0L583 1147Q518 1085 412 1023Q306 961 222 930L222 1104Q371 1174 482 1274Q593 1374 639 1466L763 1466Z' fill='#333' transform='translate(60.50 166.36) scale(1 1.045) translate(-15.12 0.00) scale(0.006641 -0.006641)'/>
<path class='o1' d='M763 0L583 0L583 1147Q518 1085 412 1023Q306 961 222 930L222 1104Q371 1174 482 1274Q593 1374 639 1466L763 1466Z' fill='#333' transform='translate(60.50 123.74) scale(1 1.045) translate(-15.12 0.00) scale(0.006641 -0.006641)'/>
<path class='o1' d='M763 0L583 0L583 1147Q518 1085 412 1023Q306 961 222 930L222 1104Q371 1174 482 1274Q593 1374 639 1466L763 1466Z' fill='#222' transform='translate(25.8 132.5) rotate(-90) translate(-11.66 0.00) scale(0.008789 -0.008789)'/>
<path class='o1' d='M763 0L583 0L583 1147Q518 1085 412 1023Q306 961 222 930L222 1104Q371 1174 482 1274Q593 1374 639 1466L763 1466Z' fill='#222' transform='translate(25.8 132.5) rotate(-90) translate(12.55 -7.00) scale(0.006104 -0.006104)'/>
<path class='o1' d='M763 0L583 0L583 1147Q518 1085 412 1023Q306 961 222 930L222 1104Q371 1174 482 1274Q593 1374 639 1466L763 1466Z' fill='#333' transform='translate(631.20 265.20) scale(1 1.045) translate(-11.34 0.00) scale(0.006641 -0.006641)'/>
<path class='o1' d='M763 0L583 0L583 1147Q518 1085 412 1023Q306 961 222 930L222 1104Q371 1174 482 1274Q593 1374 639 1466L763 1466Z' fill='#333' transform='translate(367.80 251.60) scale(1 1.045) translate(-7.56 0.00) scale(0.006641 -0.006641)'/>
<path class='o1' d='M763 0L583 0L583 1147Q518 1085 412 1023Q306 961 222 930L222 1104Q371 1174 482 1274Q593 1374 639 1466L763 1466Z' fill='#222' transform='translate(342.5 132) rotate(-90) scale(1.012 1) translate(-14.00 0.00) scale(0.008789 -0.008789)'/>
</svg>
</body></html>
